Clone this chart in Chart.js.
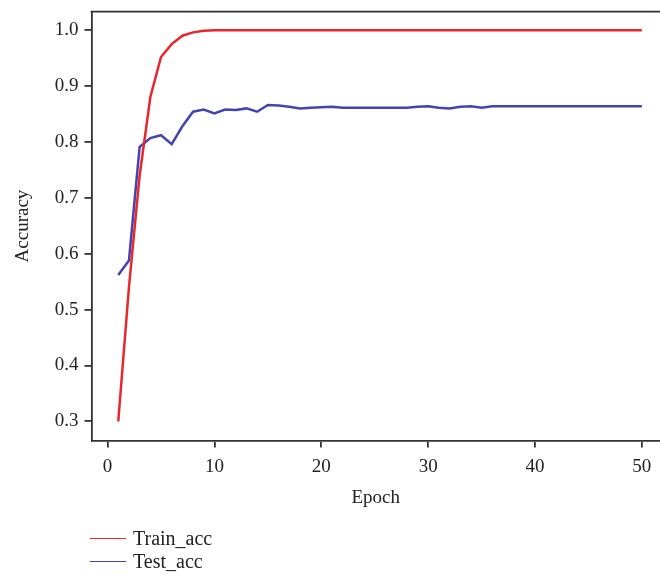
<!DOCTYPE html>
<html lang="en">
<head>
  <meta charset="UTF-8">
  <title>Accuracy per Epoch</title>
  <script src="https://cdn.jsdelivr.net/npm/chart.js"></script>
  <style>
    html, body {
      margin: 0;
      padding: 0;
      background: #fff;
      overflow: hidden;
      font-family: 'Liberation Serif', 'DejaVu Serif', serif;
    }
    .wrap {
      position: relative;
      width: 660px;
      height: 575px;
    }
    canvas {
      display: block;
    }
    .legend {
      position: absolute;
      left: 90px;
      top: 527px;
      font-size: 20px;
      color: #222;
    }
    .legend-item {
      display: flex;
      align-items: center;
      height: 23px;
    }
    .legend-line {
      width: 36px;
      height: 0;
      border-top: 1.5px solid;
      margin-right: 7px;
    }
  </style>
</head>
<body>
  <div class="wrap">
    <canvas id="accChart" width="660" height="575"></canvas>
    <div class="legend" id="legend"></div>
  </div>

  <script>
    const epochs = Array.from({ length: 50 }, (_, i) => i + 1);

    const trainAcc = [
      0.300, 0.540, 0.740, 0.880, 0.952, 0.975, 0.990, 0.996, 0.999, 1.000,
      1.000, 1.000, 1.000, 1.000, 1.000, 1.000, 1.000, 1.000, 1.000, 1.000,
      1.000, 1.000, 1.000, 1.000, 1.000, 1.000, 1.000, 1.000, 1.000, 1.000,
      1.000, 1.000, 1.000, 1.000, 1.000, 1.000, 1.000, 1.000, 1.000, 1.000,
      1.000, 1.000, 1.000, 1.000, 1.000, 1.000, 1.000, 1.000, 1.000, 1.000
    ];

    const testAcc = [
      0.562, 0.588, 0.791, 0.807, 0.812, 0.796, 0.828, 0.854, 0.858, 0.851,
      0.858, 0.857, 0.860, 0.854, 0.866, 0.865, 0.863, 0.860, 0.861, 0.862,
      0.863, 0.861, 0.861, 0.861, 0.861, 0.861, 0.861, 0.861, 0.863, 0.864,
      0.861, 0.860, 0.863, 0.864, 0.861, 0.864, 0.864, 0.864, 0.864, 0.864,
      0.864, 0.864, 0.864, 0.864, 0.864, 0.864, 0.864, 0.864, 0.864, 0.864
    ];

    const xTicks = [0, 10, 20, 30, 40, 50];
    const yTicks = [0.3, 0.4, 0.5, 0.6, 0.7, 0.8, 0.9, 1.0];

    const axisColor = '#333';
    const fontFamily = "'Liberation Serif', 'DejaVu Serif', serif";

    // top edge of the plot frame
    const frameTop = {
      id: 'frameTop',
      afterDraw(chart) {
        const { ctx, chartArea } = chart;
        ctx.save();
        ctx.strokeStyle = axisColor;
        ctx.lineWidth = 1.8;
        ctx.beginPath();
        ctx.moveTo(chartArea.left - 1, chartArea.top);
        ctx.lineTo(chart.width, chartArea.top);
        ctx.stroke();
        ctx.restore();
      }
    };

    const toPoints = vals => vals.map((v, i) => ({ x: epochs[i], y: v }));

    const chart = new Chart(document.getElementById('accChart'), {
      type: 'line',
      data: {
        datasets: [
          {
            label: 'Train_acc',
            data: toPoints(trainAcc),
            borderColor: '#e8262b',
            borderWidth: 2.5,
            pointRadius: 0,
            tension: 0
          },
          {
            label: 'Test_acc',
            data: toPoints(testAcc),
            borderColor: '#4343b4',
            borderWidth: 2.5,
            pointRadius: 0,
            tension: 0
          }
        ]
      },
      options: {
        responsive: false,
        animation: false,
        layout: { padding: { top: 3, right: 0, bottom: 62, left: 8 } },
        plugins: {
          legend: { display: false },
          tooltip: { enabled: false }
        },
        scales: {
          x: {
            type: 'linear',
            min: -1.5,
            max: 51.7,
            afterBuildTicks: axis => { axis.ticks = xTicks.map(v => ({ value: v })); },
            ticks: {
              color: '#222',
              font: { family: fontFamily, size: 19 },
              padding: 8,
              maxRotation: 0
            },
            grid: {
              drawOnChartArea: false,
              color: axisColor,
              lineWidth: 1.8,
              tickLength: 7
            },
            border: { color: axisColor, width: 1.8 },
            title: {
              display: true,
              text: 'Epoch',
              color: '#222',
              font: { family: fontFamily, size: 19 },
              padding: { top: 0 }
            }
          },
          y: {
            min: 0.266,
            max: 1.033,
            afterBuildTicks: axis => { axis.ticks = yTicks.map(v => ({ value: v })); },
            ticks: {
              color: '#222',
              // small line height keeps the top tick label from pushing the plot down
              font: { family: fontFamily, size: 19, lineHeight: 0.6 },
              padding: 6,
              callback: v => v.toFixed(1)
            },
            grid: {
              drawOnChartArea: false,
              color: axisColor,
              lineWidth: 1.8,
              tickLength: 7
            },
            border: { color: axisColor, width: 1.8 },
            title: {
              display: true,
              text: 'Accuracy',
              color: '#222',
              font: { family: fontFamily, size: 19 },
              padding: { bottom: 14 }
            }
          }
        }
      },
      plugins: [frameTop]
    });

    // legend with short line samples
    const legendEl = document.getElementById('legend');
    chart.data.datasets.forEach(ds => {
      const item = document.createElement('div');
      item.className = 'legend-item';
      const line = document.createElement('span');
      line.className = 'legend-line';
      line.style.borderColor = ds.borderColor;
      const text = document.createElement('span');
      text.textContent = ds.label;
      item.appendChild(line);
      item.appendChild(text);
      legendEl.appendChild(item);
    });
  </script>
</body>
</html>
